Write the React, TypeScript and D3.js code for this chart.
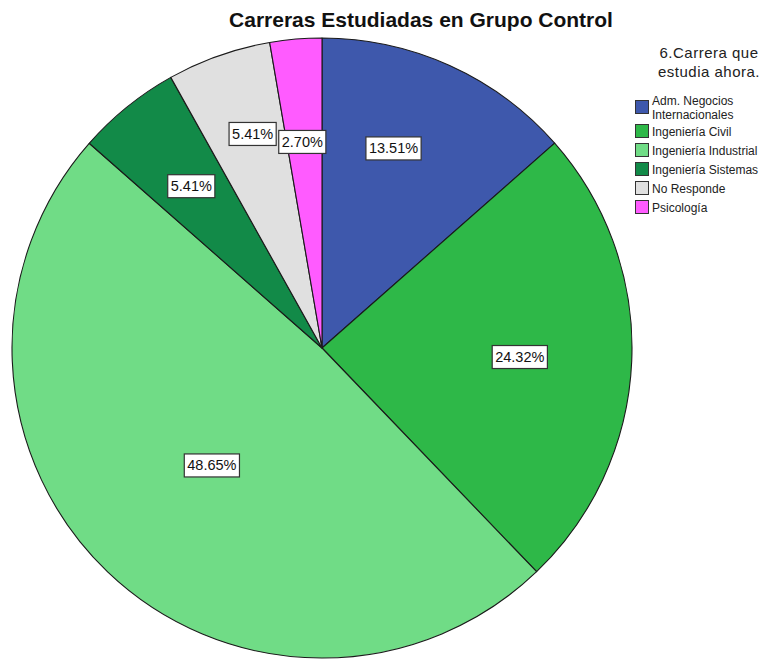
import React, { useEffect, useRef } from "react";
import * as d3 from "d3";

const categories = [
  "Adm. Negocios Internacionales",
  "Ingeniería Civil",
  "Ingeniería Industrial",
  "Ingeniería Sistemas",
  "No Responde",
  "Psicología",
];
const legendLines = [
  ["Adm. Negocios", "Internacionales"],
  ["Ingeniería Civil"],
  ["Ingeniería Industrial"],
  ["Ingeniería Sistemas"],
  ["No Responde"],
  ["Psicología"],
];
const percents = [13.51, 24.32, 48.65, 5.41, 5.41, 2.7];
const colors = ["#3E58AC", "#2EB848", "#70DC86", "#128A48", "#E0E0E0", "#FF5BFF"];
const title = "Carreras Estudiadas en Grupo Control";
const legendTitle = ["6.Carrera que", "estudia ahora."];

// label placement (radius in px, angle offset in degrees from slice middle)
const labelLayout = [
  { r: 212, off: -4.6 },
  { r: 198, off: 0.2 },
  { r: 161, off: -0.6 },
  { r: 208, off: 0 },
  { r: 225, off: 1.5 },
  { r: 207, off: -0.6 },
];

export default function App() {
  const ref = useRef<SVGSVGElement>(null);
  useEffect(() => {
    const svg = d3.select(ref.current);
    svg.selectAll("*").remove();
    const cx = 322, cy = 348, R = 310;
    const font = "Arial, 'Liberation Sans', sans-serif";

    svg.append("text").attr("x", 421).attr("y", 27).attr("text-anchor", "middle")
      .attr("font-family", font).attr("font-weight", "bold").attr("font-size", 21)
      .attr("fill", "#111").text(title);

    const pie = d3.pie<number>().value((d) => d).sort(null);
    const arcs = pie(percents);
    const arc = d3.arc<d3.PieArcDatum<number>>().innerRadius(0).outerRadius(R);
    const g = svg.append("g").attr("transform", `translate(${cx},${cy})`);
    g.selectAll("path").data(arcs).enter().append("path")
      .attr("d", arc as any)
      .attr("fill", (_d, i) => colors[i])
      .attr("stroke", "#1a1a1a").attr("stroke-width", 1.1).attr("stroke-linejoin", "round");

    arcs.forEach((a, i) => {
      const mid = (a.startAngle + a.endAngle) / 2 + (labelLayout[i].off * Math.PI) / 180;
      const x = Math.sin(mid) * labelLayout[i].r;
      const y = -Math.cos(mid) * labelLayout[i].r;
      const lg = g.append("g").attr("transform", `translate(${x},${y})`);
      const rect = lg.append("rect");
      const t = lg.append("text").attr("text-anchor", "middle").attr("y", 5)
        .attr("font-family", font).attr("font-size", 14.5).attr("fill", "#111")
        .text(percents[i].toFixed(2) + "%");
      const w = (t.node() as SVGTextElement).getComputedTextLength() + 6;
      rect.attr("x", -w / 2).attr("y", -11.5).attr("width", w).attr("height", 23)
        .attr("fill", "#fff").attr("stroke", "#333").attr("stroke-width", 1.2);
    });

    const lgd = svg.append("g");
    legendTitle.forEach((s, i) => {
      lgd.append("text").attr("x", 709).attr("y", 58 + i * 19).attr("text-anchor", "middle")
        .attr("font-family", font).attr("font-size", 15).attr("letter-spacing", 0.5)
        .attr("fill", "#222").text(s);
    });
    const rowY = [107, 131, 150, 169, 188, 207];
    categories.forEach((c, i) => {
      const y = rowY[i];
      lgd.append("rect").attr("x", 635.5).attr("y", y - 6.5).attr("width", 13).attr("height", 13)
        .attr("fill", colors[i]).attr("stroke", "#333").attr("stroke-width", 1);
      const lines = legendLines[i];
      lines.forEach((ln, j) => {
        const ty = y + 4.5 + (j - (lines.length - 1) / 2) * 14;
        lgd.append("text").attr("x", 652).attr("y", ty)
          .attr("font-family", font).attr("font-size", 12).attr("fill", "#222").text(ln);
      });
    });
  }, []);
  return (
    <div style={{ position: "absolute", left: 0, top: 0 }}>
      <svg ref={ref} width={781} height={660} style={{ display: "block", background: "#fff" }} />
    </div>
  );
}
